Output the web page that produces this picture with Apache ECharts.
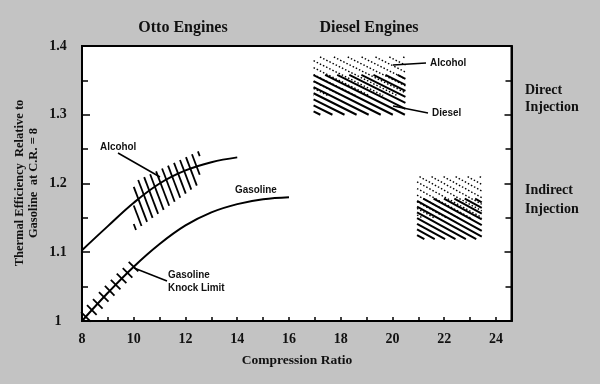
<!DOCTYPE html>
<html><head><meta charset="utf-8">
<script src="https://cdn.jsdelivr.net/npm/echarts@6/dist/echarts.min.js"></script>
<style>html,body{margin:0;padding:0;background:#c3c3c3}#c{width:600px;height:384px}</style>
</head><body><div id="c"></div>
<script>
// ---- data ----
const alcoholX = [8, 9, 10, 11, 12, 13, 14];
const alcoholY = [1.103, 1.138, 1.172, 1.200, 1.219, 1.231, 1.238];
const gasolineX = [8, 9, 10, 11, 12, 13, 14, 15, 16];
const gasolineY = [1.000, 1.041, 1.079, 1.112, 1.139, 1.158, 1.170, 1.177, 1.180];
const knockX = [8.15, 8.38, 8.61, 8.84, 9.07, 9.30, 9.53, 9.76, 9.99];
const knockY = [1.006, 1.016, 1.025, 1.035, 1.044, 1.053, 1.062, 1.070, 1.079];
// hatched regions (corners in compression ratio / efficiency)
const ottoAlcoholBand = [[10.0, 1.130], [10.0, 1.202], [12.55, 1.248], [12.55, 1.200]];
const diAlcohol = [[16.95, 1.328], [16.95, 1.384], [20.5, 1.384], [20.5, 1.328]];
const diDiesel = [[16.95, 1.300], [16.95, 1.358], [20.5, 1.358], [20.5, 1.300]];
const idiAlcohol = [[20.95, 1.150], [20.95, 1.210], [23.45, 1.210], [23.45, 1.150]];
const idiDiesel = [[20.95, 1.119], [20.95, 1.178], [23.45, 1.178], [23.45, 1.119]];
const xLabelStep = 2;

// ---- hatch styles ----
const hatchRegions = [
  { corners: ottoAlcoholBand, dir: [0.38, 1], spacing: 6.6, phase: 2, width: 1.8, dash: null },
  { corners: diAlcohol, dir: [1, 0.5], spacing: 6.2, phase: 1, width: 1.4, dash: [1.5, 2] },
  { corners: diDiesel, dir: [1, 0.5], spacing: 5.4, phase: 3.5, width: 2, dash: null },
  { corners: idiAlcohol, dir: [1, 0.55], spacing: 5.8, phase: 1, width: 1.4, dash: [1.5, 2] },
  { corners: idiDiesel, dir: [1, 0.55], spacing: 5.0, phase: 3.2, width: 2, dash: null }
];

function hatchLines(pts, dir, spacing, phase) {
  const L = Math.hypot(dir[0], dir[1]);
  const d = [dir[0] / L, dir[1] / L];
  const n = [-d[1], d[0]];
  const proj = pts.map(p => p[0] * n[0] + p[1] * n[1]);
  const lo = Math.min(...proj), hi = Math.max(...proj);
  const segs = [];
  for (let c = lo + phase; c < hi; c += spacing) {
    const hits = [];
    for (let i = 0; i < pts.length; i++) {
      const j = (i + 1) % pts.length;
      const na = proj[i] - c, nb = proj[j] - c;
      if ((na <= 0 && nb > 0) || (na > 0 && nb <= 0)) {
        const t = na / (na - nb);
        hits.push([pts[i][0] + t * (pts[j][0] - pts[i][0]), pts[i][1] + t * (pts[j][1] - pts[i][1])]);
      }
    }
    if (hits.length >= 2) {
      hits.sort((p, q) => (p[0] * d[0] + p[1] * d[1]) - (q[0] * d[0] + q[1] * d[1]));
      segs.push([hits[0], hits[hits.length - 1]]);
    }
  }
  return segs;
}

const serif = '"Liberation Serif", "Times New Roman", serif';
const sans = '"Liberation Sans", Arial, sans-serif';

const chart = echarts.init(document.getElementById('c'), null, { renderer: 'canvas' });

function txt(text, x, y, font, align) {
  return { type: 'text', x: x, y: y, silent: true,
    style: { text: text, font: font, fill: '#111', align: align || 'left', textAlign: align || 'left',
      verticalAlign: 'middle', textVerticalAlign: 'middle' } };
}
function note(text, x, y) {
  return Object.assign(txt(text, x, y, 'bold 11px ' + sans), { scaleX: 0.9 });
}
function ln(x1, y1, x2, y2, w) {
  return { type: 'line', silent: true, shape: { x1, y1, x2, y2 }, style: { stroke: '#000', lineWidth: w || 1.5 } };
}

const option = {
  backgroundColor: '#c3c3c3',
  animation: false,
  grid: { left: 82, right: 88.5, top: 46, bottom: 63, show: true, backgroundColor: '#ffffff', borderColor: '#000', borderWidth: 2 },
  xAxis: {
    type: 'value', min: 8, max: 24.6, interval: 1,
    axisLine: { show: true, lineStyle: { color: '#000', width: 2 } },
    axisTick: { show: true, inside: true, length: 4, lineStyle: { color: '#000', width: 1.5 } },
    splitLine: { show: false },
    axisLabel: {
      interval: 0, margin: 11, color: '#111', fontFamily: serif, fontWeight: 'bold', fontSize: 14,
      formatter: v => (Math.abs(v / xLabelStep - Math.round(v / xLabelStep)) < 1e-6 ? String(v) : '')
    }
  },
  yAxis: [{
    type: 'value', min: 1, max: 1.4, interval: 0.1, position: 'left',
    axisLine: { show: true, lineStyle: { color: '#000', width: 2 } },
    axisTick: { show: true, inside: true, length: 8, lineStyle: { color: '#000', width: 1.5 } },
    minorTick: { show: true, splitNumber: 2, length: 6, lineStyle: { color: '#000', width: 1.5 } },
    splitLine: { show: false },
    axisLabel: { margin: 24, align: 'center', color: '#111', fontFamily: serif, fontWeight: 'bold', fontSize: 14,
      formatter: v => String(+v.toFixed(2)) }
  }, {
    type: 'value', min: 1, max: 1.4, interval: 0.1, position: 'right',
    axisLine: { show: true, lineStyle: { color: '#000', width: 2 } },
    axisTick: { show: true, inside: true, length: 7, lineStyle: { color: '#000', width: 1.5 } },
    minorTick: { show: true, splitNumber: 2, length: 6, lineStyle: { color: '#000', width: 1.5 } },
    splitLine: { show: false },
    axisLabel: { show: false }
  }],
  series: [
    { name: 'Alcohol', type: 'line', smooth: 0.4, symbol: 'none', lineStyle: { color: '#000', width: 2 },
      data: alcoholX.map((x, i) => [x, alcoholY[i]]), z: 4 },
    { name: 'Gasoline', type: 'line', smooth: 0.4, symbol: 'none', lineStyle: { color: '#000', width: 2 },
      data: gasolineX.map((x, i) => [x, gasolineY[i]]), z: 4 },
    { name: 'Knock limit', type: 'custom', silent: true, z: 5,
      data: knockX.map((x, i) => [x, knockY[i]]),
      encode: { x: 0, y: 1 },
      renderItem: (params, api) => {
        const c = api.coord([api.value(0), api.value(1)]);
        const h = 4.8;
        return { type: 'line', shape: { x1: c[0] - h, y1: c[1] - h, x2: c[0] + h, y2: c[1] + h },
          style: { stroke: '#000', lineWidth: 1.8 } };
      } },
    { name: 'Hatch', type: 'custom', silent: true, z: 3,
      data: hatchRegions.map(r => r.corners[0]),
      encode: { x: 0, y: 1 },
      renderItem: (params, api) => {
        const r = hatchRegions[params.dataIndex];
        const pts = r.corners.map(c => api.coord(c));
        const segs = hatchLines(pts, r.dir, r.spacing, r.phase);
        return { type: 'group', children: segs.map(s => ({ type: 'line',
          shape: { x1: s[0][0], y1: s[0][1], x2: s[1][0], y2: s[1][1] },
          style: { stroke: '#000', lineWidth: r.width, lineDash: r.dash } })) };
      } }
  ],
  graphic: [
    txt('Otto Engines', 183, 28, 'bold 16px ' + serif, 'center'),
    txt('Diesel Engines', 369, 28, 'bold 16px ' + serif, 'center'),
    txt('Direct', 525, 90, 'bold 14px ' + serif),
    txt('Injection', 525, 107, 'bold 14px ' + serif),
    txt('Indirect', 525, 190, 'bold 14px ' + serif),
    txt('Injection', 525, 209, 'bold 14px ' + serif),
    txt('Compression Ratio', 297, 361, 'bold 13.5px ' + serif, 'center'),
    Object.assign(txt('Thermal Efficiency  Relative to', 20, 183, 'bold 12.5px ' + serif, 'center'), { rotation: Math.PI / 2 }),
    Object.assign(txt('Gasoline  at C.R. = 8', 34, 183, 'bold 12.5px ' + serif, 'center'), { rotation: Math.PI / 2 }),
    note('Alcohol', 100, 147),
    ln(118, 153, 160, 177),
    note('Gasoline', 235, 190),
    note('Gasoline', 168, 275),
    note('Knock Limit', 168, 288),
    ln(134, 268, 167, 281),
    note('Alcohol', 430, 63),
    ln(393, 65, 426, 63),
    note('Diesel', 432, 113),
    ln(393, 106, 428, 113)
  ]
};
chart.setOption(option);
</script>
</body></html>
